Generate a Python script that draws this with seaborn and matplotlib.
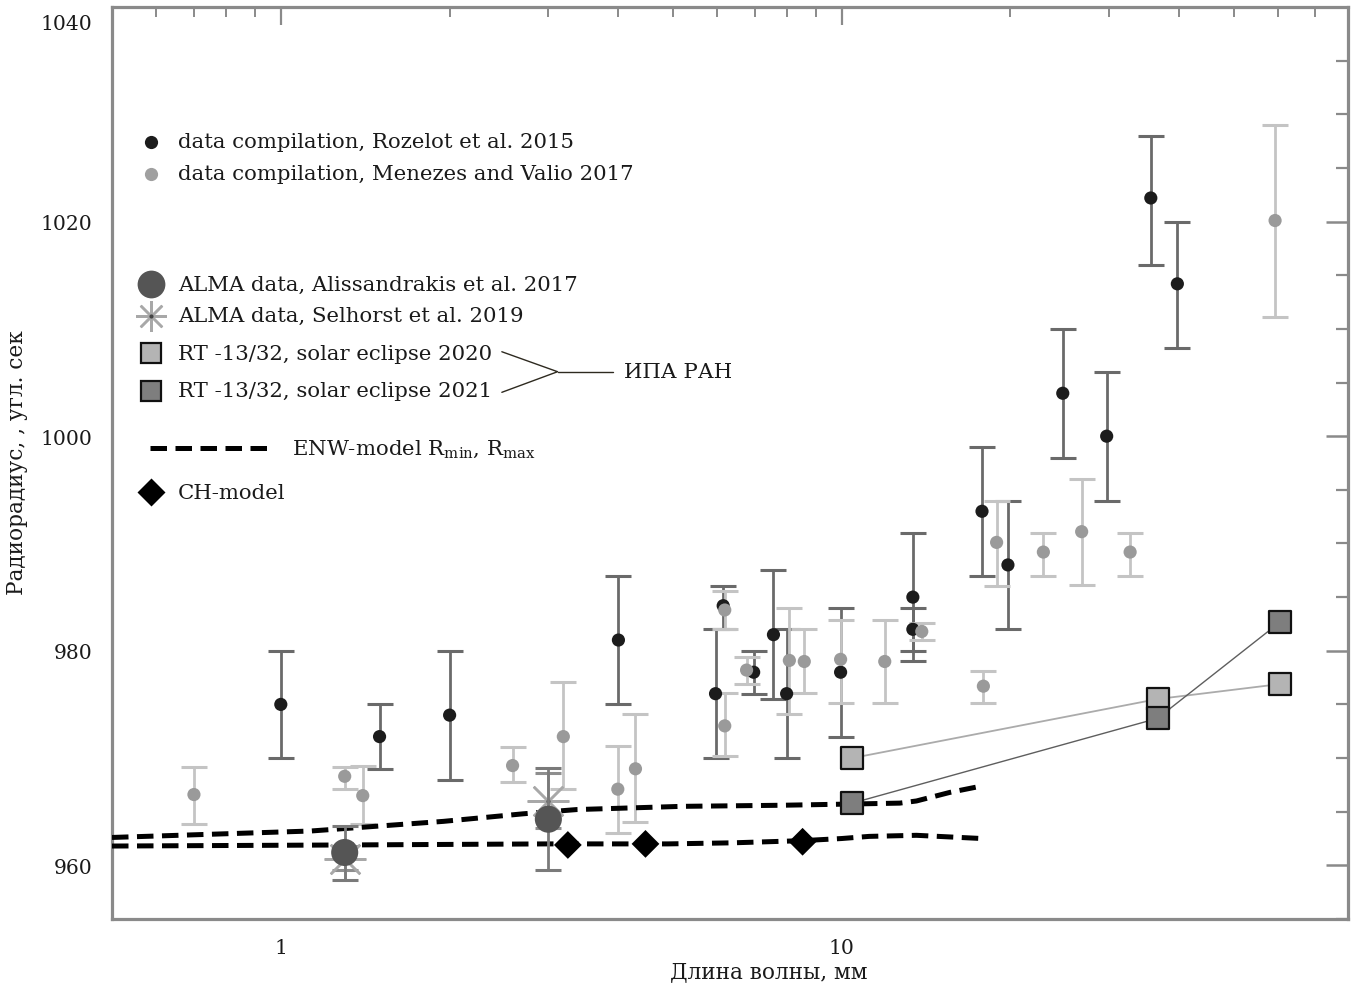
import numpy as np
import matplotlib
matplotlib.use("Agg")
import matplotlib.pyplot as plt
import matplotlib.transforms as mtrans
from matplotlib.ticker import NullFormatter
import seaborn as sns

# ---------------- data ----------------
# Rozelot et al. 2015 (black points)
roz_wl = [1.0, 1.5, 2.0, 4.0, 5.96, 6.15, 6.97, 7.56, 7.98, 9.96, 13.4, 13.4,
          17.8, 19.8, 24.8, 29.7, 35.6, 39.7]
roz_r = [975.0, 972.0, 974.0, 981.0, 976.0, 984.2, 978.0, 981.5, 976.0, 978.0,
         985.0, 982.0, 993.0, 988.0, 1004.0, 1000.0, 1022.2, 1014.2]
roz_lo = [970.0, 969.0, 968.0, 975.0, 970.0, 982.0, 976.0, 975.5, 970.0, 972.0,
          979.0, 980.0, 987.0, 982.0, 998.0, 994.0, 1016.0, 1008.2]
roz_hi = [980.0, 975.0, 980.0, 987.0, 982.0, 986.0, 980.0, 987.5, 982.0, 984.0,
          991.0, 984.0, 999.0, 994.0, 1010.0, 1006.0, 1028.0, 1020.0]

# Menezes and Valio 2017 (grey points)
men_wl = [0.70, 1.30, 1.40, 2.59, 3.19, 3.99, 4.29, 6.19, 6.19, 6.77, 8.07, 8.58,
          9.96, 11.94, 13.9, 17.9, 18.9, 22.9, 26.8, 32.7, 59.3]
men_r = [966.6, 968.3, 966.5, 969.3, 972.0, 967.1, 969.0, 983.8, 973.0, 978.2,
         979.1, 979.0, 979.2, 979.0, 981.8, 976.7, 990.1, 989.2, 991.1, 989.2, 1020.1]
men_lo = [963.9, 967.1, 963.9, 967.8, 967.1, 963.0, 964.0, 982.0, 970.2, 976.9,
          974.1, 976.1, 975.1, 975.1, 981.0, 975.1, 986.0, 987.0, 986.1, 987.0, 1011.1]
men_hi = [969.2, 969.2, 969.3, 971.0, 977.1, 971.1, 974.1, 985.6, 976.1, 979.4,
          984.0, 982.0, 982.9, 982.9, 982.6, 978.1, 994.0, 991.0, 996.0, 991.0, 1029.0]

# ALMA, Alissandrakis et al. 2017
alis_wl = [1.3, 3.0]
alis_r = [961.2, 964.3]
alis_lo = [958.6, 959.6]
alis_hi = [963.7, 969.1]

# ALMA, Selhorst et al. 2019
sel_wl = [1.3, 3.0]
sel_r = [960.6, 966.0]
sel_lo = [959.6, 963.5]
sel_hi = [961.8, 968.6]

# RT-13/32 eclipses
rt_wl = [10.45, 36.6, 60.6]
rt2020 = [970.0, 975.5, 976.9]
rt2021 = [965.8, 973.7, 982.7]

# ENW model Rmax / Rmin
enw_max_wl = [0.5, 1.13, 1.95, 2.7, 3.37, 5.2, 7.8, 10.0, 12.7, 13.6, 15.6, 17.8]
enw_max = [962.6, 963.2, 964.1, 964.8, 965.2, 965.5, 965.6, 965.7, 965.8, 966.0, 966.8, 967.4]
enw_min_wl = [0.5, 1.3, 3.0, 4.9, 6.4, 8.5, 10.0, 11.2, 13.6, 17.8]
enw_min = [961.8, 961.9, 962.0, 962.0, 962.1, 962.3, 962.5, 962.7, 962.8, 962.5]

# CH model
ch_wl = [3.25, 4.47, 8.52]
ch_r = [961.9, 962.0, 962.2]

x_major = [1, 10]
x_major_labels = ["1", "10"]
y_major = [960, 980, 1000, 1020, 1040]

# ---------------- style ----------------
sns.set_theme(style="white")
plt.rcParams['font.family'] = ['DejaVu Serif']
plt.rcParams['mathtext.fontset'] = 'dejavuserif'
FS = 14.6      # tick labels
FSL = 15.3     # legend texts
FSA = 15.6     # axis labels
TXT = '#1a1a1a'
AXC = '#8a8a8a'

fig = plt.figure(figsize=(13.54, 9.87), dpi=100)
ax = fig.add_axes([112 / 1354, 67 / 987, 1236 / 1354, 912 / 987])
ax.set_xscale('log')
ax.set_xlim(0.5, 80)
ax.set_ylim(955, 1040)


def yerr(r, lo, hi):
    r = np.asarray(r); return [r - np.asarray(lo), np.asarray(hi) - r]


# error bars
ax.errorbar(roz_wl, roz_r, yerr=yerr(roz_r, roz_lo, roz_hi), fmt='none',
            ecolor='#6a6a6a', elinewidth=2.0, capsize=9.5, capthick=2.2, zorder=2)
ax.errorbar(men_wl, men_r, yerr=yerr(men_r, men_lo, men_hi), fmt='none',
            ecolor='#c4c4c4', elinewidth=2.0, capsize=9.5, capthick=2.2, zorder=2)

sns.scatterplot(x=roz_wl, y=roz_r, ax=ax, color='#1c1c1c', s=90,
                edgecolor='none', zorder=4, legend=False)
sns.scatterplot(x=men_wl, y=men_r, ax=ax, color='#9a9a9a', s=90,
                edgecolor='none', zorder=4, legend=False)

# ENW model lines
for wl, rr in [(enw_max_wl, enw_max), (enw_min_wl, enw_min)]:
    sns.lineplot(x=wl, y=rr, ax=ax, color='black', lw=3.6, sort=False,
                 estimator=None, zorder=5, legend=False)
    ax.lines[-1].set_dashes([3.3, 1.7])

# ALMA Selhorst (asterisk) then Alissandrakis (circle)
ax.errorbar(sel_wl, sel_r, yerr=yerr(sel_r, sel_lo, sel_hi), fmt='none',
            ecolor='#8e8e8e', elinewidth=2.0, capsize=9.5, capthick=2.2, zorder=5.5)
ax.plot(sel_wl, sel_r, ls='none', marker=(8, 2, 0), ms=30, mec='#a8a8a8',
        mew=1.8, zorder=5.6)
ax.plot(sel_wl, sel_r, ls='none', marker='o', ms=3, mfc='#444', mec='none', zorder=5.7)
ax.errorbar(alis_wl, alis_r, yerr=yerr(alis_r, alis_lo, alis_hi), fmt='none',
            ecolor='#7a7a7a', elinewidth=2.0, capsize=9.5, capthick=2.2, zorder=5.8)
sns.scatterplot(x=alis_wl, y=alis_r, ax=ax, color='#555555', s=380,
                edgecolor='none', zorder=6, legend=False)

# RT-13/32 squares
sns.lineplot(x=rt_wl, y=rt2020, ax=ax, color='#ababab', lw=1.3, sort=False,
             estimator=None, zorder=6.2, legend=False)
sns.lineplot(x=rt_wl, y=rt2021, ax=ax, color='#5e5e5e', lw=1.0, sort=False,
             estimator=None, zorder=6.4, legend=False)
sns.scatterplot(x=rt_wl, y=rt2020, ax=ax, color='#b4b4b4', marker='s', s=230,
                edgecolor='#111', linewidth=1.6, zorder=6.3, legend=False)
sns.scatterplot(x=rt_wl, y=rt2021, ax=ax, color='#7e7e7e', marker='s', s=230,
                edgecolor='#111', linewidth=1.6, zorder=6.5, legend=False)

# CH model diamonds
sns.scatterplot(x=ch_wl, y=ch_r, ax=ax, color='black', marker='D', s=200,
                edgecolor='none', zorder=7, legend=False)

# ---------------- axes styling ----------------
ax.set_xticks(x_major, labels=x_major_labels)
minor_x = [0.6, 0.7, 0.8, 0.9, 2, 3, 4, 5, 6, 7, 8, 9, 20, 30, 40, 50, 60, 70, 80]
ax.set_xticks(minor_x, minor=True)
ax.xaxis.set_minor_formatter(NullFormatter())
ax.set_yticks(y_major, labels=[str(v) for v in y_major])
ax.set_yticks(np.arange(955, 1041, 5), minor=True)

ax.tick_params(which='both', direction='in', top=True, right=True,
               color=AXC, labelcolor=TXT, labelsize=FS)
ax.tick_params(axis='x', which='major', length=13, width=1.6, pad=14)
ax.tick_params(axis='x', which='minor', length=7, width=1.4)
ax.tick_params(axis='y', which='major', length=16, width=1.8, pad=14)
ax.tick_params(axis='y', which='minor', length=8.5, width=1.6)
for s in ax.spines.values():
    s.set_color(AXC)
    s.set_linewidth(2.3)

# shift the topmost y label down a little, like the reference
lab = ax.get_yticklabels()[-1]
lab.set_transform(lab.get_transform() + mtrans.ScaledTranslation(0, -0.15, fig.dpi_scale_trans))

ax.set_xlabel("Длина волны, мм", fontsize=FSA, color=TXT)
ax.xaxis.set_label_coords(0.5316, -0.045)
ax.set_ylabel("Радиорадиус, , угл. сек", fontsize=FSA, color=TXT)
ax.yaxis.set_label_coords(-0.068, 0.502)

# ---------------- manual legend ----------------
T = ax.transAxes
mx, tx = 0.0316, 0.0534
kw = dict(transform=T, clip_on=False, ls='none')
ax.plot([mx], [0.852], marker='o', ms=9.5, mfc='#1c1c1c', mec='none', **kw)
ax.plot([mx], [0.817], marker='o', ms=9.5, mfc='#a0a0a0', mec='none', **kw)
ax.plot([mx], [0.696], marker='o', ms=20, mfc='#555555', mec='none', **kw)
ax.plot([mx], [0.6615], marker=(8, 2, 0), ms=22, mec='#a8a8a8', mew=1.8, **kw)
ax.plot([mx], [0.6615], marker='o', ms=3, mfc='#444', mec='none', **kw)
ax.plot([mx], [0.6206], marker='s', ms=15, mfc='#b4b4b4', mec='#111', mew=1.6, **kw)
ax.plot([mx], [0.5793], marker='s', ms=15, mfc='#7e7e7e', mec='#111', mew=1.6, **kw)
ax.plot([mx], [0.4682], marker='D', ms=14, mfc='black', mec='none', **kw)
ln, = ax.plot([0.0307, 0.1294], [0.5164, 0.5164], transform=T, color='black',
              lw=3.6, clip_on=False)
ln.set_dashes([3.3, 1.7])

leg_items = [
    (tx, 0.852, "data compilation, Rozelot et al. 2015"),
    (tx, 0.817, "data compilation, Menezes and Valio 2017"),
    (tx, 0.696, "ALMA data, Alissandrakis et al. 2017"),
    (tx, 0.6615, "ALMA data, Selhorst et al. 2019"),
    (tx, 0.6206, "RT -13/32, solar eclipse 2020"),
    (tx, 0.5793, "RT -13/32, solar eclipse 2021"),
    (0.1456, 0.5164, r"ENW-model R$_{\mathrm{min}}$, R$_{\mathrm{max}}$"),
    (tx, 0.4682, "CH-model"),
]
for x, y, s in leg_items:
    ax.text(x, y, s, transform=T, fontsize=FSL, color=TXT, ha='left', va='center')

# bracket to "ИПА РАН"
ax.plot([0.3154, 0.3605, 0.3154], [0.6220, 0.6001, 0.5775], transform=T,
        color='#2e2a20', lw=1.0)
ax.plot([0.3605, 0.4053], [0.6001, 0.6001], transform=T, color='#2e2a20', lw=1.0)
ax.text(0.4146, 0.6001, "ИПА РАН", transform=T, fontsize=FSL, color=TXT,
        ha='left', va='center')

fig.savefig("out.png", dpi=100)
